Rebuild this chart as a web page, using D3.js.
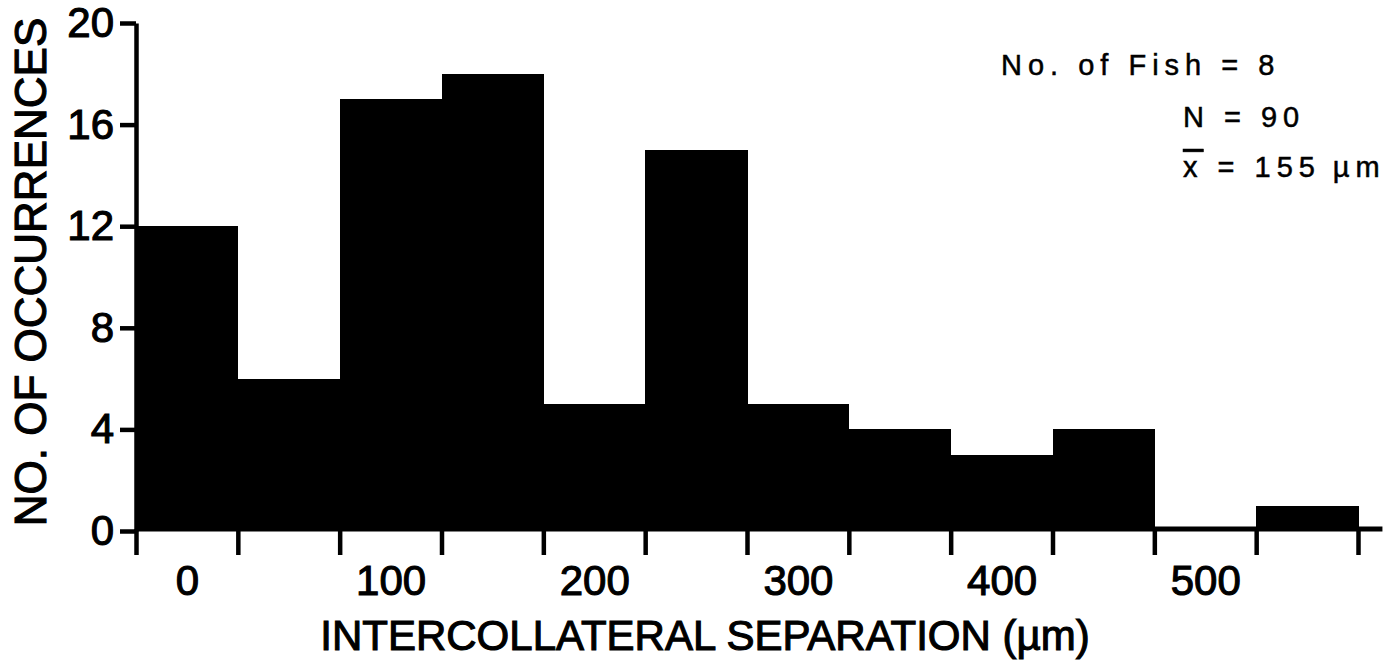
<!DOCTYPE html>
<html><head><meta charset="utf-8">
<script src="https://cdn.jsdelivr.net/npm/d3@7/dist/d3.min.js"></script>
<style>
body{margin:0;background:#fff;}
svg{display:block;font-family:"Liberation Sans",Arial,Helvetica,sans-serif;}
</style></head>
<body><svg id="c" width="1393" height="660"></svg>
<script>
const binCenters = [0,50,100,150,200,250,300,350,400,450,500,550];
const counts = [12,6,17,18,5,15,5,4,3,4,0,1];
const binWidth = 50;
const yTicks = [0,4,8,12,16,20];
const xLabels = [0,100,200,300,400,500];
const xTitle = "INTERCOLLATERAL SEPARATION (\u00B5m)";
const yTitle = "NO. OF OCCURRENCES";
const notes = ["No. of Fish = 8", "N = 90", "= 155\u2009\u00B5m"];

const svg = d3.select("#c");
const x = d3.scaleLinear().domain([-25, 575]).range([136, 1358]);
const y = d3.scaleLinear().domain([0, 20]).range([531, 23]);
const edges = binCenters.map(c => c - binWidth/2).concat([binCenters[binCenters.length-1] + binWidth/2]);

// bars
svg.append("g").attr("shape-rendering", "crispEdges")
  .selectAll("rect").data(binCenters).join("rect")
  .attr("x", (c) => x(c - binWidth/2))
  .attr("width", (c) => x(c + binWidth/2) - x(c - binWidth/2) + 0.5)
  .attr("y", (c,i) => y(counts[i]))
  .attr("height", (c,i) => y(0) - y(counts[i]))
  .attr("fill", "#000");

// baseline
svg.append("line")
  .attr("x1", x(-25)).attr("x2", x(587))
  .attr("y1", y(0) - 2).attr("y2", y(0) - 2)
  .attr("stroke", "#000").attr("stroke-width", 5);

// x ticks at bin edges
const xTickAxis = d3.axisBottom(x).tickValues(edges).tickFormat("").tickSize(26).tickSizeOuter(0);
const gx = svg.append("g").attr("transform", `translate(0,${y(0) - 2})`).call(xTickAxis);
gx.select(".domain").remove();
gx.selectAll(".tick line").attr("stroke", "#000").attr("stroke-width", 4.5);

const textStyle = sel => sel.attr("fill", "#000").attr("stroke", "#000").attr("stroke-width", 1.1)
  .attr("font-family", "'Liberation Sans',Arial,sans-serif");

// x labels
const xLabAxis = d3.axisBottom(x).tickValues(xLabels).tickSize(0).tickPadding(34);
const gxl = svg.append("g").attr("transform", `translate(0,${y(0)})`).call(xLabAxis);
gxl.select(".domain").remove();
gxl.selectAll("text").attr("font-size", 42).call(textStyle);

// y axis
const yAxis = d3.axisLeft(y).tickValues(yTicks).tickSize(16).tickSizeOuter(0).tickPadding(6);
const gy = svg.append("g").attr("transform", `translate(${x(-25)},0)`).call(yAxis);
gy.select(".domain").attr("stroke", "#000").attr("stroke-width", 4.5);
gy.selectAll(".tick line").attr("stroke", "#000").attr("stroke-width", 4.5);
gy.selectAll("text").attr("font-size", 42).call(textStyle);

// titles
svg.append("text").attr("x", 705).attr("y", 650)
  .attr("text-anchor", "middle").attr("font-size", 42).call(textStyle)
  .text(xTitle);
svg.append("text").attr("transform", "translate(46,272) rotate(-90)")
  .attr("text-anchor", "middle").attr("font-size", 44).call(textStyle)
  .text(yTitle);

// notes
const noteG = svg.append("g").attr("font-size", 29).attr("letter-spacing", 6)
  .attr("fill", "#000").attr("stroke", "#000").attr("stroke-width", 0.5);
noteG.append("text").attr("x", 1001).attr("y", 75).text(notes[0]);
noteG.append("text").attr("x", 1183).attr("y", 127).text(notes[1]);
const t3 = noteG.append("text").attr("x", 1183).attr("y", 177);
t3.append("tspan").attr("text-decoration", "overline").text("x");
t3.append("tspan").text(" " + notes[2]);
</script></body></html>
